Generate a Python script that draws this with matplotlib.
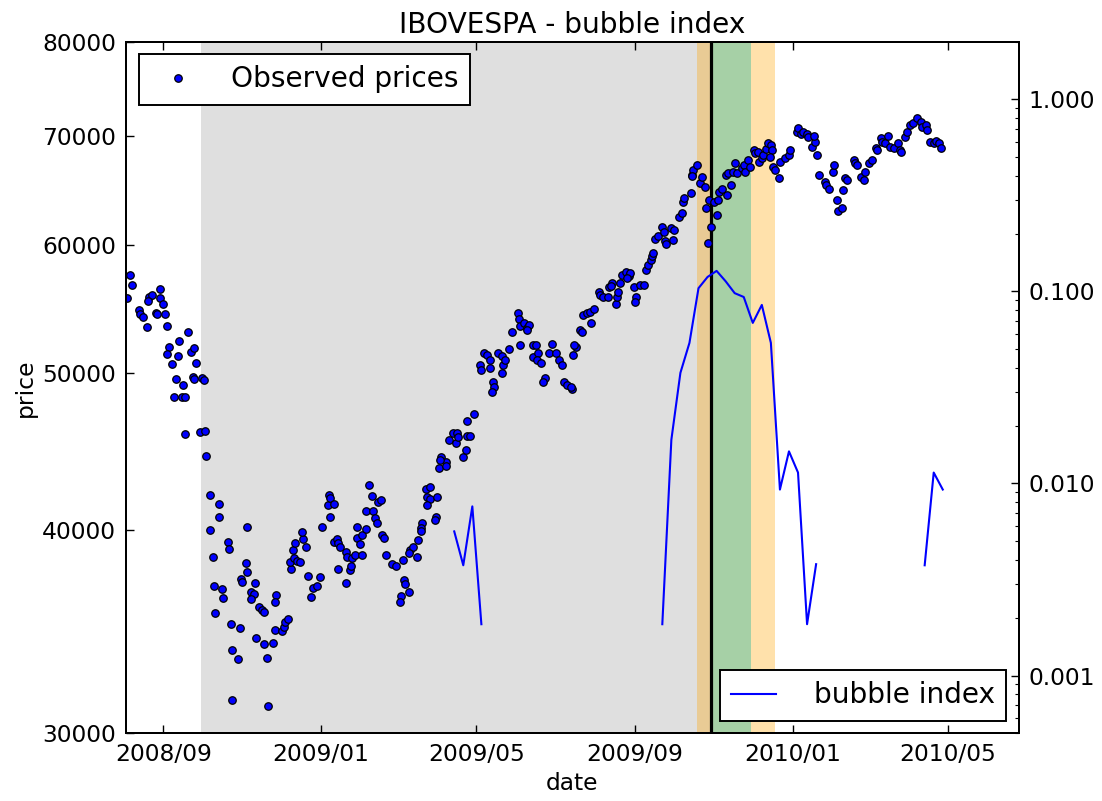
import numpy as np
import pandas as pd
import matplotlib
matplotlib.use("Agg")
import matplotlib.pyplot as plt
import matplotlib.dates as mdates
from matplotlib.ticker import FormatStrFormatter, NullLocator

# observed daily closes
price_dates = [
    "2008-08-06", "2008-08-08", "2008-08-04", "2008-08-13", "2008-08-14", "2008-08-16", "2008-08-19", "2008-08-21",
    "2008-08-23", "2008-08-20", "2008-08-26", "2008-08-27", "2008-08-29", "2008-08-29", "2008-09-01", "2008-09-02",
    "2008-09-04", "2008-09-05", "2008-09-04", "2008-09-08", "2008-09-12", "2008-09-13", "2008-09-11", "2008-09-09",
    "2008-09-16", "2008-09-15", "2008-09-18", "2008-09-20", "2008-09-22", "2008-09-25", "2008-09-26", "2008-09-24",
    "2008-09-25", "2008-10-01", "2008-10-02", "2008-09-18", "2008-09-29", "2008-10-03", "2008-10-04", "2008-10-07",
    "2008-10-14", "2008-10-14", "2008-10-07", "2008-10-09", "2008-10-10", "2008-10-16", "2008-10-17", "2008-10-11",
    "2008-10-21", "2008-10-22", "2008-10-23", "2008-10-30", "2008-10-24", "2008-10-29", "2008-10-24", "2008-11-05",
    "2008-11-04", "2008-11-05", "2008-10-31", "2008-11-01", "2008-11-11", "2008-11-08", "2008-11-10", "2008-11-08",
    "2008-11-14", "2008-11-16", "2008-11-18", "2008-11-12", "2008-11-18", "2008-11-20", "2008-11-21", "2008-11-25",
    "2008-11-26", "2008-11-27", "2008-11-26", "2008-12-02", "2008-12-03", "2008-12-04", "2008-12-06", "2008-12-09",
    "2008-12-08", "2008-12-11", "2008-12-13", "2008-12-16", "2008-12-10", "2008-12-12", "2008-12-18", "2008-12-17",
    "2008-12-20", "2008-12-22", "2008-12-24", "2008-12-26", "2008-12-29", "2008-12-31", "2009-01-02", "2009-01-08",
    "2009-01-11", "2009-01-06", "2009-01-07", "2009-01-08", "2009-01-11", "2009-01-13", "2009-01-14", "2009-01-16",
    "2009-01-20", "2009-01-21", "2009-01-25", "2009-01-27", "2009-01-14", "2009-01-20", "2009-01-23", "2009-01-24",
    "2009-01-29", "2009-01-29", "2009-01-31", "2009-02-02", "2009-02-05", "2009-02-02", "2009-02-07", "2009-02-09",
    "2009-02-05", "2009-02-10", "2009-02-14", "2009-02-16", "2009-02-12", "2009-02-13", "2009-02-17", "2009-02-19",
    "2009-02-20", "2009-02-25", "2009-02-28", "2009-03-05", "2009-03-06", "2009-03-07", "2009-03-10", "2009-03-04",
    "2009-03-03", "2009-03-11", "2009-03-13", "2009-03-10", "2009-03-16", "2009-03-17", "2009-03-20", "2009-03-19",
    "2009-03-19", "2009-03-23", "2009-03-26", "2009-03-24", "2009-03-26", "2009-03-24", "2009-04-01", "2009-03-31",
    "2009-03-30", "2009-04-02", "2009-04-04", "2009-04-08", "2009-04-08", "2009-04-03", "2009-04-10", "2009-04-13",
    "2009-04-16", "2009-04-15", "2009-04-17", "2009-04-21", "2009-04-23", "2009-04-24", "2009-04-26", "2009-04-24",
    "2009-04-29", "2009-05-04", "2009-05-05", "2009-05-07", "2009-05-09", "2009-05-12", "2009-05-12", "2009-05-14",
    "2009-05-15", "2009-05-13", "2009-05-18", "2009-05-21", "2009-05-22", "2009-05-23", "2009-05-26", "2009-05-21",
    "2009-05-29", "2009-06-02", "2009-06-03", "2009-06-04", "2009-06-07", "2009-06-09", "2009-06-11", "2009-06-04",
    "2009-06-14", "2009-06-14", "2009-06-09", "2009-06-16", "2009-06-18", "2009-06-17", "2009-06-20", "2009-06-26",
    "2009-06-29", "2009-07-02", "2009-07-04", "2009-07-06", "2009-06-23", "2009-06-22", "2009-07-08", "2009-07-10",
    "2009-07-14", "2009-07-13", "2009-07-15", "2009-07-17", "2009-07-16", "2009-07-20", "2009-07-22", "2009-07-23",
    "2009-07-26", "2009-07-28", "2009-07-31", "2009-07-29", "2009-08-04", "2009-08-05", "2009-08-07", "2009-08-11",
    "2009-08-12", "2009-08-14", "2009-08-13", "2009-08-17", "2009-08-18", "2009-08-20", "2009-08-19", "2009-08-22",
    "2009-08-25", "2009-08-27", "2009-08-28", "2009-08-26", "2009-08-31", "2009-09-02", "2009-09-01", "2009-09-05",
    "2009-09-08", "2009-09-09", "2009-09-11", "2009-09-13", "2009-09-14", "2009-09-15", "2009-09-16", "2009-09-19",
    "2009-09-22", "2009-09-23", "2009-09-24", "2009-09-25", "2009-09-29", "2009-10-01", "2009-09-30", "2009-10-05",
    "2009-10-07", "2009-10-08", "2009-10-09", "2009-10-14", "2009-10-15", "2009-10-16", "2009-10-19", "2009-10-15",
    "2009-10-21", "2009-10-23", "2009-10-25", "2009-10-26", "2009-10-28", "2009-10-27", "2009-10-30", "2009-11-01",
    "2009-11-03", "2009-11-05", "2009-11-04", "2009-11-07", "2009-11-10", "2009-11-12", "2009-11-14", "2009-11-11",
    "2009-11-16", "2009-11-17", "2009-11-19", "2009-11-23", "2009-11-24", "2009-11-25", "2009-11-27", "2009-11-29",
    "2009-12-02", "2009-12-03", "2009-12-05", "2009-12-06", "2009-12-08", "2009-12-09", "2009-12-11", "2009-12-13",
    "2009-12-15", "2009-12-16", "2009-12-14", "2009-12-17", "2009-12-18", "2009-12-21", "2009-12-22", "2009-12-26",
    "2009-12-29", "2009-12-30", "2010-01-04", "2010-01-05", "2010-01-07", "2010-01-09", "2010-01-12", "2010-01-13",
    "2010-01-16", "2010-01-18", "2010-01-17", "2010-01-20", "2010-01-21", "2010-01-26", "2010-01-27", "2010-01-29",
    "2010-02-01", "2010-02-02", "2010-02-04", "2010-02-05", "2010-02-08", "2010-02-09", "2010-02-10", "2010-02-12",
    "2010-02-17", "2010-02-18", "2010-02-20", "2010-02-23", "2010-02-25", "2010-02-26", "2010-03-01", "2010-03-03",
    "2010-03-06", "2010-03-07", "2010-03-10", "2010-03-11", "2010-03-13", "2010-03-16", "2010-03-17", "2010-03-20",
    "2010-03-23", "2010-03-25", "2010-03-26", "2010-03-29", "2010-03-30", "2010-04-02", "2010-04-04", "2010-04-07",
    "2010-04-10", "2010-04-11", "2010-04-14", "2010-04-15", "2010-04-17", "2010-04-20", "2010-04-22", "2010-04-24",
    "2010-04-26",
]
prices = [
    57460, 56650, 55590, 54680, 54340, 54160, 53400, 55720,
    55850, 55380, 54420, 54340, 56330, 55590, 55110, 54340,
    53450, 51900, 51350, 50670, 51250, 52320, 49580, 48350,
    49160, 48350, 48350, 53020, 51490, 51780, 50700, 49740,
    49560, 49630, 49510, 45860, 45970, 46070, 44430, 42060,
    41530, 40750, 40020, 38510, 36980, 36810, 36350, 35560,
    39360, 38940, 35010, 34820, 33760, 33320, 31450, 40210,
    38200, 37700, 37340, 37180, 37150, 36650, 36570, 36310,
    35890, 35730, 35640, 34330, 34040, 33370, 31190, 34110,
    34740, 36480, 36140, 34660, 34900, 35140, 35300, 37880,
    38250, 38450, 38290, 38250, 38900, 39300, 39510, 39890,
    39080, 37510, 36400, 36840, 36980, 37420, 40170, 40750,
    39360, 41470, 42060, 41860, 41510, 39500, 39300, 39080,
    38800, 38540, 38450, 38630, 37880, 37150, 37820, 38060,
    40170, 39550, 39230, 39730, 40060, 38630, 42690, 42020,
    41090, 41090, 41670, 41760, 40730, 40400, 39730, 39600,
    38630, 38160, 38060, 38360, 37280, 37060, 36650, 36440,
    36140, 38900, 39080, 38720, 38540, 39460, 40400, 40120,
    39990, 42410, 42520, 41960, 41810, 41470, 41930, 40790,
    40600, 43680, 44400, 44090, 43820, 44200, 45470, 45910,
    45950, 45250, 45690, 44400, 44820, 45730, 45730, 46730,
    47180, 50570, 50220, 51460, 51300, 50930, 50340, 49390,
    49040, 48690, 51460, 51230, 50570, 50930, 51710, 50030,
    53020, 54420, 53960, 53450, 53660, 53270, 53520, 52030,
    52030, 51180, 53150, 52030, 51420, 50930, 50700, 51460,
    52090, 51460, 50930, 50570, 49630, 49390, 49390, 49160,
    48860, 49040, 51300, 51900, 52030, 53150, 53020, 54290,
    54420, 54550, 54730, 53660, 56110, 55850, 55720, 55720,
    56470, 56840, 56570, 55150, 55720, 56790, 56110, 57460,
    57730, 57380, 57650, 57190, 56470, 55720, 55330, 56650,
    56650, 57870, 58280, 58700, 59030, 59250, 60440, 60730,
    61480, 61100, 60270, 60080, 61390, 61250, 60390, 62410,
    62710, 63760, 64060, 64570, 66210, 66690, 67160, 66120,
    65440, 66060, 65070, 63160, 63910, 60130, 61530, 63760,
    62560, 64660, 63910, 64960, 66210, 66370, 65290, 64410,
    66530, 67390, 66370, 66850, 67160, 66530, 67640, 67000,
    68610, 68290, 68450, 67480, 67800, 68130, 68680, 69320,
    69100, 68610, 67960, 67000, 66690, 65910, 67480, 67800,
    68130, 68610, 70410, 70750, 70180, 70410, 70180, 69910,
    68930, 69420, 69980, 68130, 66210, 65580, 65290, 64960,
    66530, 67160, 63910, 62890, 63160, 64820, 65910, 65750,
    67640, 67330, 67160, 66060, 65750, 66530, 67330, 67640,
    68780, 68610, 69750, 69420, 69260, 69980, 68930, 68780,
    69260, 68610, 68450, 69910, 70410, 71090, 71260, 71760,
    71420, 70920, 71090, 70580, 69420, 69260, 69520, 69320,
    68780,
]

# weekly bubble index (gaps where no bubble was detected)
bubble_dates = [
    "2009-04-14", "2009-04-21", "2009-04-28", "2009-05-05", "2009-05-12",
    "2009-09-22", "2009-09-29", "2009-10-06", "2009-10-13", "2009-10-20", "2009-10-27",
    "2009-11-03", "2009-11-10", "2009-11-17", "2009-11-24", "2009-12-01", "2009-12-08",
    "2009-12-15", "2009-12-22", "2009-12-29", "2010-01-05", "2010-01-12", "2010-01-19",
    "2010-01-26", "2010-04-13", "2010-04-20", "2010-04-27",
]
bubble_values = [
    0.00563, 0.00375, 0.0076, 0.00185, np.nan,
    0.00185, 0.0169, 0.0377, 0.054, 0.104, 0.119,
    0.128, 0.113, 0.098, 0.0936, 0.0686, 0.0851,
    0.054, 0.0093, 0.0147, 0.0114, 0.00185, 0.0038,
    np.nan, 0.00375, 0.0114, 0.0093,
]

# fit window and critical-time bands
window_start = "2008-09-30"
window_end = "2009-10-30"
tc_band = ("2009-10-19", "2009-12-18")
tc_core_end = "2009-11-30"

price_ticks = [30000, 40000, 50000, 60000, 70000, 80000]
bubble_ticks = [0.001, 0.01, 0.1, 1.0]

plt.rcParams['font.family'] = 'DejaVu Sans'

fig = plt.figure(figsize=(11.02, 8.01), dpi=100)
ax1 = fig.add_axes([0.1143, 0.0845, 0.8104, 0.8635])

pd_dates = pd.to_datetime(price_dates)
ax1.plot(pd_dates, prices, 'o', color='b', mec='k', mew=0.9, ms=5.4,
         label='Observed prices', zorder=3)

ts = pd.Timestamp
ax1.axvspan(ts(window_start), ts(window_end), color='gray', alpha=0.25, lw=0, zorder=0)
ax1.axvspan(ts(tc_band[0]), ts(tc_band[1]), color='orange', alpha=0.33, lw=0, zorder=0.2)
ax1.axvspan(ts(window_end), ts(tc_core_end), color='#a6d0a6', lw=0, zorder=0.4)
ax1.axvline(ts(window_end), color='k', lw=2.3, zorder=2)

ax1.set_yscale('log')
ax1.set_ylim(30000, 80000)
ax1.set_yticks(price_ticks)
ax1.yaxis.set_major_formatter(FormatStrFormatter('%d'))
ax1.yaxis.set_minor_locator(NullLocator())
ax1.set_xlim(ts("2008-08-03"), ts("2010-06-25"))
ax1.xaxis.set_major_locator(mdates.MonthLocator(bymonth=[1, 5, 9]))
ax1.xaxis.set_major_formatter(mdates.DateFormatter('%Y/%m'))
ax1.xaxis.set_minor_locator(NullLocator())
ax1.tick_params(direction='in', length=5.5, width=1, labelsize=16.8, top=True, right=False, pad=7)
ax1.set_xlabel('date', fontsize=16.8)
ax1.set_ylabel('price', fontsize=16.8)
ax1.set_title('IBOVESPA - bubble index', fontsize=20.2, pad=6)
for sp in ax1.spines.values():
    sp.set_linewidth(1.4)

ax1.legend(loc='upper left', numpoints=1, fontsize=20.2, fancybox=False, framealpha=1,
           edgecolor='k', borderaxespad=0.45, handlelength=2.0, handletextpad=0.9,
           borderpad=0.4).get_frame().set_linewidth(1.4)

ax2 = ax1.twinx()
ax2.plot(pd.to_datetime(bubble_dates), bubble_values, color='b', lw=1.5, label='bubble index')
ax2.set_yscale('log')
ax2.set_ylim(5e-4, 2)
ax2.set_yticks(bubble_ticks)
ax2.yaxis.set_major_formatter(FormatStrFormatter('%.3f'))
ax2.tick_params(axis='y', which='major', direction='in', length=5.5, width=1, labelsize=16.8, pad=7)
ax2.tick_params(axis='y', which='minor', direction='in', length=2.8, width=0.8)
ax2.set_xlim(ax1.get_xlim())
for sp in ax2.spines.values():
    sp.set_linewidth(1.4)

ax2.legend(loc='lower right', fontsize=20.2, fancybox=False, framealpha=1,
           edgecolor='k', borderaxespad=0.45, handlelength=1.6, handletextpad=1.35,
           borderpad=0.4).get_frame().set_linewidth(1.4)

fig.savefig('out.png', dpi=100)
